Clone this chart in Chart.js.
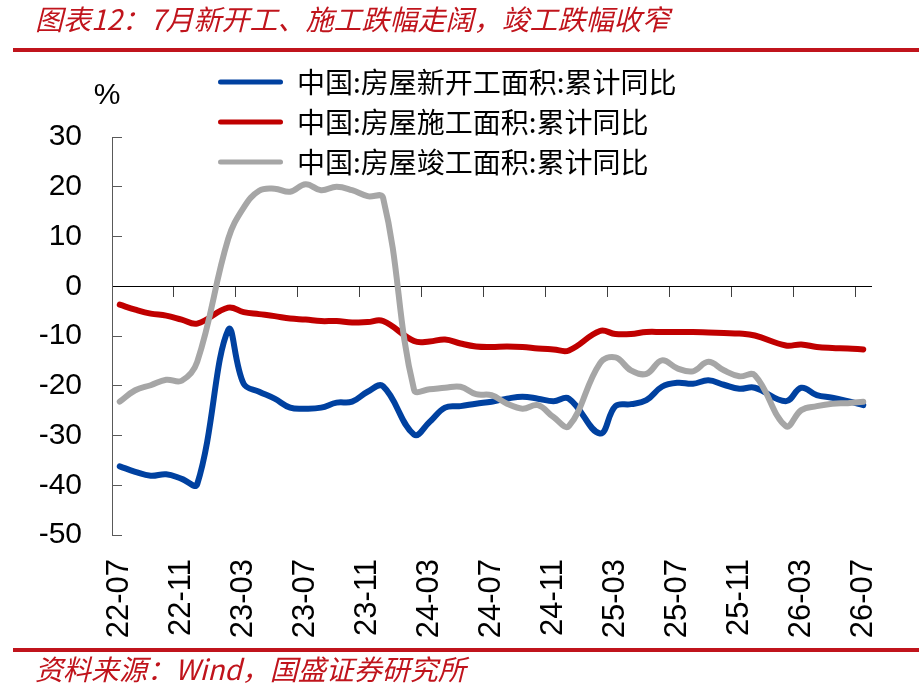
<!DOCTYPE html>
<html lang="zh-CN">
<head>
<meta charset="utf-8">
<title>图表12</title>
<script src="https://cdn.jsdelivr.net/npm/chart.js@4.4.1/dist/chart.umd.min.js"></script>
<style>
  body { margin: 0; background: #fff; }
  #page { position: relative; width: 919px; height: 693px; overflow: hidden; background: #fff; }
  #chartBox { position: absolute; left: 0; top: 0; width: 919px; height: 693px; }
  .rule { position: absolute; left: 13px; width: 906px; height: 4px; background: #c0141c; }
  .note { position: absolute; left: 35px; font-family: "Noto Sans CJK SC", sans-serif; font-style: italic;
          font-size: 28px; line-height: 28px; color: #c0141c; white-space: nowrap; }
</style>
</head>
<body>
<div id="page">
  <div id="chartBox"><canvas id="myChart"></canvas></div>
  <div class="note" style="top:4px">图表12：7月新开工、施工跌幅走阔，竣工跌幅收窄</div>
  <div class="rule" style="top:48px"></div>
  <div class="rule" style="top:648px"></div>
  <div class="note" style="top:654px">资料来源：Wind，国盛证券研究所</div>
</div>
<script>
// 月份（1月无累计数据，留空）
const months = [
  '22-07', '22-08', '22-09', '22-10', '22-11', '22-12',
  '23-01', '23-02', '23-03', '23-04', '23-05', '23-06', '23-07', '23-08', '23-09', '23-10', '23-11', '23-12',
  '24-01', '24-02', '24-03', '24-04', '24-05', '24-06', '24-07', '24-08', '24-09', '24-10', '24-11', '24-12',
  '25-01', '25-02', '25-03', '25-04', '25-05', '25-06', '25-07', '25-08', '25-09', '25-10', '25-11', '25-12',
  '26-01', '26-02', '26-03', '26-04', '26-05', '26-06', '26-07'
];

const newStarts = [
  -36.2, -37.3, -38.1, -37.8, -38.7, -39.8,
  null, -8.8, -19.6, -21.2, -22.6, -24.4, -24.6, -24.4, -23.4, -23.2, -21.2, -20.1,
  null, -29.8, -27.3, -24.4, -24.1, -23.6, -23.2, -22.6, -22.2, -22.6, -23.1, -22.6,
  null, -29.6, -24.1, -23.7, -22.9, -20.2, -19.4, -19.6, -18.9, -19.8, -20.6, -20.4,
  null, -23.1, -20.4, -21.9, -22.4, -23.1, -23.9
];

const underConstruction = [
  -3.7, -4.7, -5.5, -5.9, -6.7, -7.5,
  null, -4.3, -5.2, -5.6, -6.0, -6.5, -6.7, -7.0, -7.0, -7.3, -7.2, -7.0,
  null, -11.0, -11.1, -10.7, -11.5, -12.1, -12.2, -12.1, -12.2, -12.5, -12.7, -12.9,
  null, -9.0, -9.6, -9.6, -9.2, -9.2, -9.2, -9.2, -9.3, -9.4, -9.5, -9.9,
  null, -11.9, -11.7, -12.2, -12.4, -12.5, -12.7
];

const completions = [
  -23.2, -20.9, -19.9, -18.8, -19.0, -15.2,
  null, 9.5, 15.8, 19.2, 19.6, 19.0, 20.5, 19.3, 20.0, 19.3, 18.1, 17.8,
  null, -20.8, -20.7, -20.4, -20.2, -21.7, -21.9, -23.6, -24.6, -23.9, -26.3, -28.1,
  null, -15.5, -14.3, -16.9, -17.6, -14.9, -16.5, -17.1, -15.2, -16.9, -18.1, -17.9,
  null, -28.1, -24.9, -24.1, -23.6, -23.5, -23.2
];

const seriesNames = [
  '中国:房屋新开工面积:累计同比',
  '中国:房屋施工面积:累计同比',
  '中国:房屋竣工面积:累计同比'
];
const seriesColors = ['#0041a0', '#c00000', '#a6a6a6'];

const axisFont = { family: '"Liberation Sans", Arial, sans-serif', size: 30 };

// 图例放在绘图区左上方（与原图一样压在坐标区上方）
const moveLegend = {
  id: 'moveLegend',
  afterLayout(chart) {
    const lg = chart.legend;
    const dx = chart.chartArea.left + 94 - lg.left;
    const dy = chart.chartArea.top - 81 - lg.top;
    lg.left += dx; lg.right += dx;
    lg.top += dy; lg.bottom += dy;
  }
};

// 单位 "%"
const unitLabel = {
  id: 'unitLabel',
  afterDraw(chart) {
    const { ctx, chartArea } = chart;
    ctx.save();
    ctx.font = '30px "Liberation Sans", Arial, sans-serif';
    ctx.fillStyle = '#000';
    ctx.textAlign = 'center';
    ctx.textBaseline = 'middle';
    ctx.fillText('%', chartArea.left - 5, chartArea.top - 41);
    ctx.restore();
  }
};

const datasets = [newStarts, underConstruction, completions].map((serie, i) => ({
  label: seriesNames[i],
  data: serie,
  borderColor: seriesColors[i],
  backgroundColor: seriesColors[i],
  borderWidth: 6,
  borderCapStyle: 'round',
  borderJoinStyle: 'round',
  pointRadius: 0,
  tension: 0.4,
  spanGaps: true,
  order: 2 - i,
  xAxisID: 'x',
  yAxisID: 'y'
}));

new Chart(document.getElementById('myChart'), {
  type: 'line',
  data: { labels: months, datasets: datasets },
  options: {
    responsive: true,
    maintainAspectRatio: false,
    animation: false,
    layout: { padding: { left: 0, top: 137, right: 48, bottom: 0 } },
    plugins: {
      tooltip: { enabled: false },
      legend: {
        position: 'chartArea',
        align: 'start',
        labels: {
          boxWidth: 65,
          boxHeight: 5,
          padding: 12,
          color: '#000',
          useBorderRadius: true,
          borderRadius: 2.5,
          font: { family: '"Noto Sans CJK SC", sans-serif', size: 28 },
          generateLabels: chart => chart.data.datasets.map((ds, i) => ({
            text: ds.label,
            fillStyle: ds.borderColor,
            strokeStyle: ds.borderColor,
            lineWidth: 0,
            hidden: false,
            borderRadius: 2.5,
            datasetIndex: i
          }))
        }
      }
    },
    scales: {
      x: {
        type: 'category',
        position: 'bottom',
        offset: true,
        grid: { display: false, drawTicks: false },
        border: { display: false },
        ticks: {
          autoSkip: false,
          minRotation: 90,
          maxRotation: 90,
          padding: 24,
          color: '#000',
          font: { family: axisFont.family, size: 31 },
          callback: function(value, index) {
            return index % 4 === 0 ? this.getLabelForValue(value) : '';
          }
        },
        afterFit(scale) {
          scale.height = 158;
          scale.paddingLeft = 0;
          scale.paddingRight = 0;
        }
      },
      // 零轴及其刻度线
      x2: {
        type: 'category',
        position: { y: 0 },
        offset: true,
        grid: {
          offset: true,
          drawOnChartArea: false,
          drawTicks: true,
          tickLength: 10,
          lineWidth: 1,
          color: ctx => ctx.index % 4 === 0 ? '#404040' : 'rgba(0,0,0,0)'
        },
        border: { display: true, color: '#000', width: 1 },
        ticks: { display: false }
      },
      y: {
        min: -50,
        max: 30,
        grid: { drawOnChartArea: false, drawTicks: true, tickLength: -10, color: '#595959' },
        border: { display: true, color: '#595959' },
        ticks: { stepSize: 10, padding: 40, color: '#000', font: axisFont },
        afterFit(scale) { scale.width = 112; }
      }
    }
  },
  plugins: [moveLegend, unitLabel]
});
</script>
</body>
</html>
